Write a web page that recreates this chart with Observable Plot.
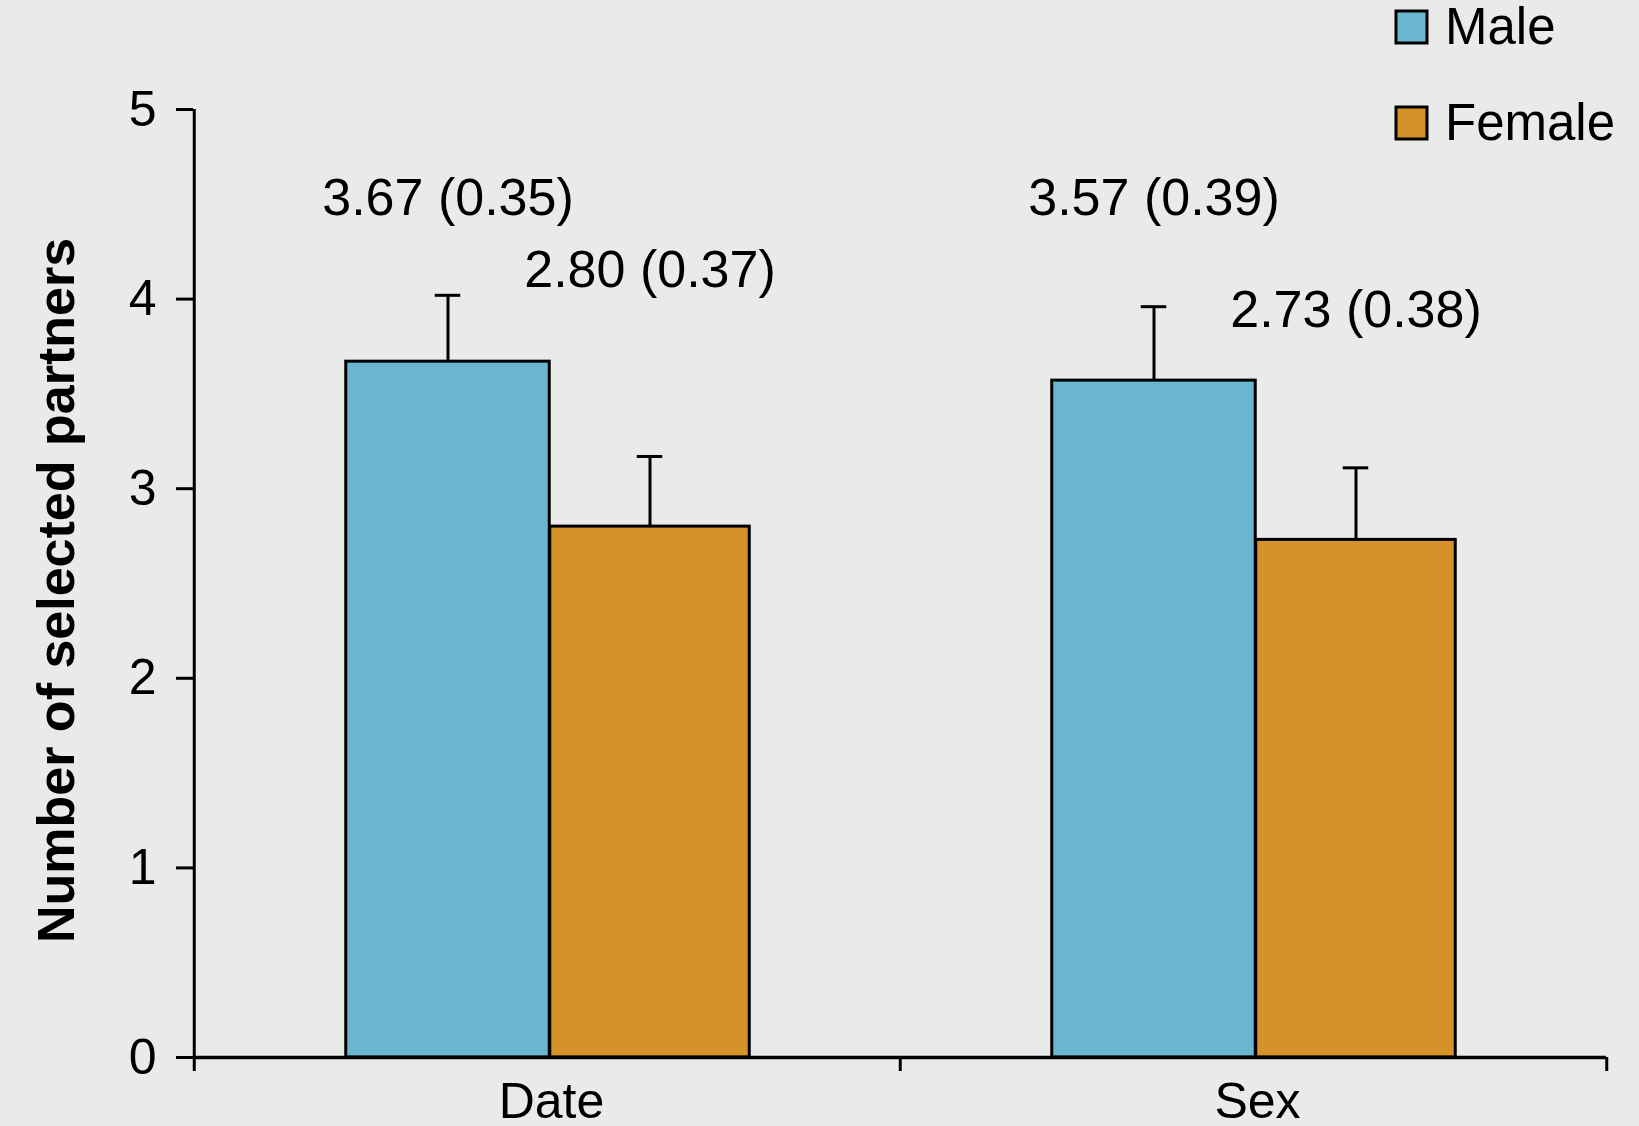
<!DOCTYPE html>
<html>
<head>
<meta charset="utf-8">
<script src="https://cdn.jsdelivr.net/npm/d3@7"></script>
<script src="https://cdn.jsdelivr.net/npm/@observablehq/plot@0.6"></script>
<style>
  html, body { margin: 0; padding: 0; background: #eaeaea; }
  #chart { position: relative; width: 1639px; height: 1126px; font-family: "Liberation Sans", Arial, Helvetica, sans-serif; }
  #chart svg { display: block; }
  #legend { position: absolute; left: 0; top: 0; }
  #chart g[aria-label="y-axis tick"], #chart g[aria-label="y-axis tick"] path { stroke-width: 3px; }
</style>
</head>
<body>
<div id="chart"></div>
<script>
// Number of partners selected, by condition and participant sex: mean (SE)
const conditions = ["Date", "Sex"];
const genders = ["Male", "Female"];
const maleMeans = [3.67, 3.57];
const maleErrors = [0.35, 0.39];
const femaleMeans = [2.80, 2.73];
const femaleErrors = [0.37, 0.38];
const yTicks = [0, 1, 2, 3, 4, 5];
const yTitle = "Number of selected partners";
const genderColors = ["#6ab5d0", "#d69129"];

// Layout
const W = 1639, H = 1126;
const margin = {top: 109, right: 33, bottom: 69, left: 193};
const step = (W - margin.left - margin.right) / conditions.length;
const pxPerUnit = (H - margin.top - margin.bottom) / 5;
const tickDepth = 14 / pxPerUnit;           // x-axis boundary ticks, in data units
const barGeom = {Male: {dx: -99.5, width: 204}, Female: {dx: 102.5, width: 200}};
const capWidth = 26;
const lineW = 3;
// vertical placement of the "mean (SE)" annotations, in data units
const labelLevel = {Male: [4.53, 4.53], Female: [4.15, 3.94]};

const series = {
  Male: {means: maleMeans, errors: maleErrors},
  Female: {means: femaleMeans, errors: femaleErrors}
};

const rows = genders.flatMap(g => conditions.map((c, i) => ({
  condition: c,
  gender: g,
  mean: series[g].means[i],
  err: series[g].errors[i],
  hi: series[g].means[i] + series[g].errors[i],
  labelY: labelLevel[g][i],
  label: `${series[g].means[i].toFixed(2)} (${series[g].errors[i].toFixed(2)})`
})));

const color = d3.scaleOrdinal(genders, genderColors);

const genderMarks = genders.flatMap(g => {
  const data = rows.filter(d => d.gender === g);
  const {dx, width} = barGeom[g];
  const inL = step / 2 + dx - width / 2;
  const inR = step / 2 - dx - width / 2;
  return [
    Plot.ruleX(data, {x: "condition", y1: "mean", y2: "hi", dx, stroke: "black", strokeWidth: lineW}),
    Plot.tickY(data, {x: "condition", y: "hi", stroke: "black", strokeWidth: lineW,
      insetLeft: step / 2 + dx - capWidth / 2, insetRight: step / 2 - dx - capWidth / 2}),
    Plot.barY(data, {x: "condition", y: "mean", fill: color(g), stroke: "black", strokeWidth: lineW,
      insetLeft: inL, insetRight: inR}),
    Plot.text(data, {x: "condition", y: "labelY", text: "label", dx, fontSize: 52, fill: "black"})
  ];
});

const chart = Plot.plot({
  width: W,
  height: H,
  marginTop: margin.top,
  marginRight: margin.right,
  marginBottom: margin.bottom,
  marginLeft: margin.left,
  x: {domain: conditions, padding: 0},
  y: {domain: [0, 5]},
  style: {background: "transparent", fontFamily: "'Liberation Sans', Arial, Helvetica, sans-serif", color: "black", overflow: "visible"},
  marks: [
    Plot.axisY({ticks: yTicks, tickFormat: d3.format("d"), tickSize: 17, tickPadding: 20, fontSize: 50, strokeWidth: lineW, label: null}),
    Plot.axisX({tickSize: 0, tickPadding: 25, fontSize: 50, dx: 4, label: null}),
    ...genderMarks,
    // axis lines and boundary ticks
    Plot.ruleY([0], {stroke: "black", strokeWidth: lineW + 0.3}),
    Plot.ruleX(conditions.slice(0, 1), {x: d => d, dx: -step / 2, y1: 0, y2: 5, stroke: "black", strokeWidth: lineW}),
    Plot.ruleX(conditions, {x: d => d, dx: -step / 2, y1: 0, y2: -tickDepth, stroke: "black", strokeWidth: lineW}),
    Plot.ruleX(conditions.slice(-1), {x: d => d, dx: step / 2, y1: 0, y2: -tickDepth, stroke: "black", strokeWidth: lineW}),
    Plot.text([yTitle], {frameAnchor: "left", textAnchor: "middle", lineAnchor: "middle", rotate: -90, dx: -136, dy: 7, fontSize: 52, fontWeight: "bold", fill: "black"})
  ]
});

const root = document.getElementById("chart");
root.appendChild(chart);

// Legend: swatches keyed to the gender colours
const legend = d3.select(root).append("svg")
  .attr("id", "legend")
  .attr("width", W)
  .attr("height", 160);
const items = legend.selectAll("g").data(genders).join("g")
  .attr("transform", (d, i) => `translate(1396, ${11 + i * 96})`);
items.append("rect")
  .attr("width", 31).attr("height", 32)
  .attr("fill", d => color(d))
  .attr("stroke", "black").attr("stroke-width", lineW);
items.append("text")
  .attr("x", 49).attr("y", 33)
  .attr("font-size", 51)
  .attr("font-family", "'Liberation Sans', Arial, Helvetica, sans-serif")
  .attr("fill", "black")
  .text(d => d);
</script>
</body>
</html>
